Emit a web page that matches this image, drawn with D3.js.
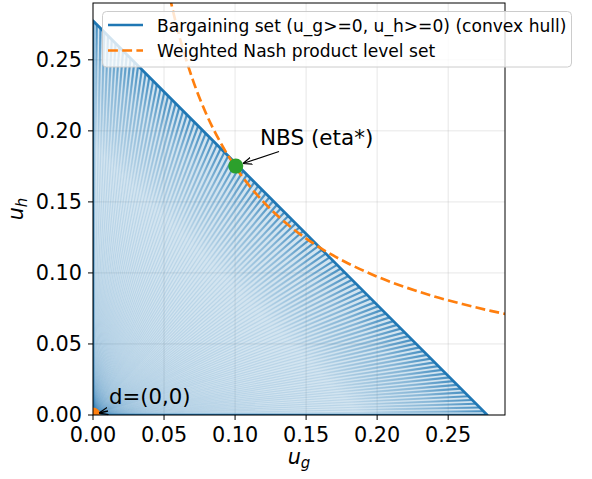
<!DOCTYPE html>
<html><head><meta charset="utf-8">
<script src="https://cdn.jsdelivr.net/npm/d3@7"></script>
<style>
html,body{margin:0;padding:0;background:#fff;}
svg{display:block;font-family:"DejaVu Sans",sans-serif;}
</style></head>
<body>
<svg id="chart" width="592" height="479"></svg>
<script>
// ---- data ----
const hullUg = [0, 0.2775, 0, 0];          // convex hull vertices (u_g)
const hullUh = [0, 0, 0.2775, 0];          // convex hull vertices (u_h)
const levelUg = [0.050, 0.055, 0.060, 0.070, 0.080, 0.090, 0.100, 0.120, 0.140, 0.160, 0.180, 0.200, 0.220, 0.240, 0.260, 0.280, 0.300];
const levelUh = [0.314, 0.290, 0.2695, 0.2366, 0.2113, 0.1913, 0.1750, 0.1500, 0.1317, 0.1176, 0.1065, 0.0974, 0.0899, 0.0835, 0.0781, 0.0733, 0.0692];
const nbsPoint = [0.1005, 0.1752];
const dPoint = [0, 0];
const xTicks = [0, 0.05, 0.10, 0.15, 0.20, 0.25];
const yTicks = [0, 0.05, 0.10, 0.15, 0.20, 0.25];
const legendLabels = ["Bargaining set (u_g>=0, u_h>=0) (convex hull)", "Weighted Nash product level set"];
const fanCount = 105;

// ---- layout ----
const svg = d3.select("#chart");
const L = 93, R = 505, T = 3, B = 415;
const x = d3.scaleLinear().domain([0, 0.29]).range([L, R]);
const y = d3.scaleLinear().domain([0, 0.29]).range([B, T]);
const blue = "#1f77b4", orange = "#ff7f0e", green = "#2ca02c";
const fs = 20.8;

const defs = svg.append("defs");
defs.append("clipPath").attr("id", "clip")
  .append("rect").attr("x", L).attr("y", T).attr("width", R - L).attr("height", B - T);
const mk = defs.append("marker").attr("id", "arr")
  .attr("viewBox", "0 0 10 10").attr("refX", 10).attr("refY", 5)
  .attr("markerWidth", 9).attr("markerHeight", 9).attr("markerUnits", "userSpaceOnUse")
  .attr("orient", "auto");
mk.append("path").attr("d", "M0,1 L10,5 L0,9").attr("fill", "none").attr("stroke", "#000").attr("stroke-width", 1.3);

// grid
const grid = svg.append("g");
xTicks.forEach(t => grid.append("line").attr("x1", x(t)).attr("x2", x(t)).attr("y1", T).attr("y2", B)
  .attr("stroke", "#b0b0b0").attr("stroke-opacity", 0.3).attr("stroke-width", 1));
yTicks.forEach(t => grid.append("line").attr("y1", y(t)).attr("y2", y(t)).attr("x1", L).attr("x2", R)
  .attr("stroke", "#b0b0b0").attr("stroke-opacity", 0.3).attr("stroke-width", 1));

const plot = svg.append("g").attr("clip-path", "url(#clip)");
const hullPts = hullUg.map((u, i) => [u, hullUh[i]]);
const lineGen = d3.line().x(d => x(d[0])).y(d => y(d[1]));

// translucent hull fill
plot.append("path").datum(hullPts).attr("d", lineGen)
  .attr("fill", blue).attr("fill-opacity", 0.2).attr("stroke", "none");

// fan rays from d to the frontier edge (hull vertices 1 -> 2)
const fx0 = hullUg[1], fy0 = hullUh[1], fx1 = hullUg[2], fy1 = hullUh[2];
const fan = d3.range(fanCount + 1).map(i => {
  const s = i / fanCount;
  return [fx0 + (fx1 - fx0) * s, fy0 + (fy1 - fy0) * s];
});
// faint full-length rays
plot.append("g").selectAll("line").data(fan).join("line")
  .attr("x1", x(dPoint[0])).attr("y1", y(dPoint[1]))
  .attr("x2", d => x(d[0])).attr("y2", d => y(d[1]))
  .attr("stroke", blue).attr("stroke-opacity", 0.13).attr("stroke-width", 1.2);
// darker ends near the frontier, fading inwards
const frac = 0.32;
fan.forEach((d, i) => {
  const px = x(d[0]), py = y(d[1]);
  const ox = x(dPoint[0]), oy = y(dPoint[1]);
  const qx = px + (ox - px) * frac, qy = py + (oy - py) * frac;
  const g = defs.append("linearGradient").attr("id", "rg" + i).attr("gradientUnits", "userSpaceOnUse")
    .attr("x1", px).attr("y1", py).attr("x2", qx).attr("y2", qy);
  g.append("stop").attr("offset", 0).attr("stop-color", blue).attr("stop-opacity", 0.75);
  g.append("stop").attr("offset", 0.35).attr("stop-color", blue).attr("stop-opacity", 0.35);
  g.append("stop").attr("offset", 1).attr("stop-color", blue).attr("stop-opacity", 0);
  plot.append("line").attr("x1", px).attr("y1", py).attr("x2", qx).attr("y2", qy)
    .attr("stroke", `url(#rg${i})`).attr("stroke-width", 2.2);
});

// hull outline
plot.append("path").datum(hullPts).attr("d", lineGen)
  .attr("fill", "none").attr("stroke", blue).attr("stroke-width", 2.67).attr("stroke-linejoin", "round");

// level set
const levelPts = levelUg.map((u, i) => [u, levelUh[i]]);
plot.append("path").datum(levelPts)
  .attr("d", d3.line().x(d => x(d[0])).y(d => y(d[1])).curve(d3.curveMonotoneX))
  .attr("fill", "none").attr("stroke", orange).attr("stroke-width", 2.67)
  .attr("stroke-dasharray", "9.9,4.3");

// d marker
plot.append("circle").attr("cx", x(dPoint[0])).attr("cy", y(dPoint[1])).attr("r", 7.5).attr("fill", orange);
// NBS marker
plot.append("circle").attr("cx", x(nbsPoint[0])).attr("cy", y(nbsPoint[1])).attr("r", 7.5).attr("fill", green);

// spines
svg.append("rect").attr("x", L).attr("y", T).attr("width", R - L).attr("height", B - T)
  .attr("fill", "none").attr("stroke", "#000").attr("stroke-width", 1);

// ticks
const ax = svg.append("g");
xTicks.forEach(t => {
  ax.append("line").attr("x1", x(t)).attr("x2", x(t)).attr("y1", B).attr("y2", B + 5).attr("stroke", "#000");
  ax.append("text").attr("x", x(t)).attr("y", 441.5).attr("text-anchor", "middle")
    .attr("font-size", fs).text(d3.format(".2f")(t));
});
yTicks.forEach(t => {
  ax.append("line").attr("y1", y(t)).attr("y2", y(t)).attr("x1", L - 5).attr("x2", L).attr("stroke", "#000");
  ax.append("text").attr("x", 82).attr("y", y(t)).attr("dy", "0.36em").attr("text-anchor", "end")
    .attr("font-size", fs).text(d3.format(".2f")(t));
});

// axis labels
const xl = svg.append("text").attr("x", (L + R) / 2).attr("y", 464).attr("text-anchor", "middle")
  .attr("font-size", fs).attr("font-style", "italic");
xl.append("tspan").text("u");
xl.append("tspan").attr("font-size", fs * 0.72).attr("dy", 4).text("g");
const yl = svg.append("text").attr("transform", `translate(23,${(T + B) / 2}) rotate(-90)`)
  .attr("text-anchor", "middle").attr("font-size", fs).attr("font-style", "italic");
yl.append("tspan").text("u");
yl.append("tspan").attr("font-size", fs * 0.72).attr("dy", 4).text("h");

// annotations
svg.append("line").attr("x1", 279).attr("y1", 151.5).attr("x2", 243).attr("y2", 163.5)
  .attr("stroke", "#000").attr("stroke-width", 1.3).attr("marker-end", "url(#arr)");
svg.append("text").attr("x", 260).attr("y", 145).attr("font-size", 21.5).text("NBS (eta*)");
svg.append("line").attr("x1", 108).attr("y1", 411).attr("x2", 99).attr("y2", 413)
  .attr("stroke", "#000").attr("stroke-width", 1.3).attr("marker-end", "url(#arr)");
svg.append("text").attr("x", 109).attr("y", 403.5).attr("font-size", 21.2).text("d=(0,0)");

// legend
const lg = svg.append("g");
lg.append("rect").attr("x", 102.5).attr("y", 11.5).attr("width", 469).attr("height", 55.5)
  .attr("rx", 4).attr("fill", "#fff").attr("fill-opacity", 0.8).attr("stroke", "#cccccc").attr("stroke-width", 1);
lg.append("line").attr("x1", 108).attr("x2", 143).attr("y1", 25).attr("y2", 25)
  .attr("stroke", blue).attr("stroke-width", 2.67);
lg.append("line").attr("x1", 108).attr("x2", 143).attr("y1", 50.5).attr("y2", 50.5)
  .attr("stroke", orange).attr("stroke-width", 2.67).attr("stroke-dasharray", "9.9,4.3");
lg.append("text").attr("x", 157).attr("y", 31.5).attr("font-size", 17.1).text(legendLabels[0]);
lg.append("text").attr("x", 157).attr("y", 57).attr("font-size", 17.1).text(legendLabels[1]);
</script>
</body></html>
